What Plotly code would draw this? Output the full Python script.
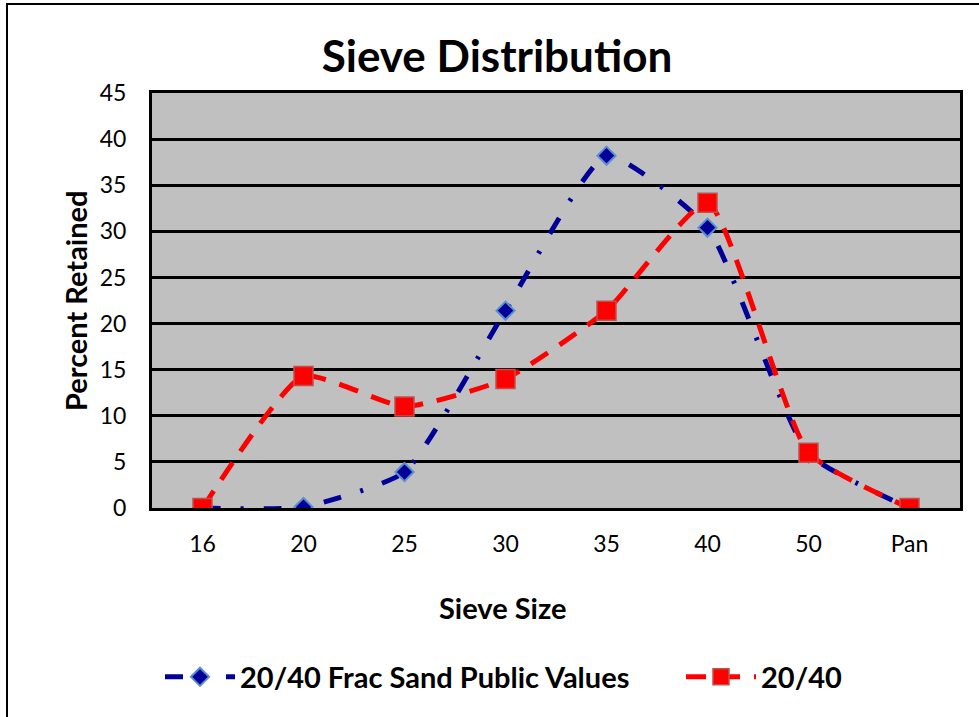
import plotly.graph_objects as go

categories = ["16", "20", "25", "30", "35", "40", "50", "Pan"]
public_values = [0, 0.1, 3.9, 21.4, 38.2, 30.4, 5.9, 0]
sample_values = [0, 14.3, 11.0, 14.0, 21.4, 33.1, 6.0, 0]
y_ticks = [0, 5, 10, 15, 20, 25, 30, 35, 40, 45]

FONT = "Lato"

L, R, T, B = 152, 960, 93, 508
W, H = R - L, B - T
def px(x):
    return (x - L) / W
def py(y):
    return (B - y) / H

fig = go.Figure()
fig.add_trace(go.Scatter(
    x=categories, y=public_values, name="<b>20/40 Frac Sand Public Values</b>",
    mode="lines+markers", legend="legend",
    line=dict(color="#000099", width=5, dash="18px,20px,3px,20px", shape="spline", smoothing=0.5),
    marker=dict(symbol="diamond", size=14, color="#000099", line=dict(color="#5B8FD0", width=2)),
))
fig.add_trace(go.Scatter(
    x=categories, y=sample_values, name="<b>20/40</b>",
    mode="lines+markers", legend="legend2",
    line=dict(color="#FF0000", width=5, dash="20px,14px", shape="spline", smoothing=0.5),
    marker=dict(symbol="square", size=19, color="#FF0000", line=dict(color="#C0504D", width=1.5)),
))

fig.add_shape(type="rect", xref="paper", yref="paper",
              x0=px(7), x1=px(995), y0=py(4), y1=py(730),
              line=dict(color="black", width=2), fillcolor="rgba(0,0,0,0)", layer="below")

fig.add_annotation(text="<b>Sieve Size</b>", xref="paper", yref="paper",
                   x=px(502), y=py(607), xanchor="center", yanchor="middle",
                   showarrow=False, font=dict(size=29, family=FONT, color="black"))
fig.add_annotation(text="<b>Percent Retained</b>", xref="paper", yref="paper",
                   x=px(75), y=py(301), xanchor="center", yanchor="middle", textangle=-90,
                   showarrow=False, font=dict(size=29, family=FONT, color="black"))

legend_common = dict(orientation="h", yanchor="middle", y=py(677), xanchor="left",
                     font=dict(size=29, family=FONT, color="black"), itemwidth=70,
                     bgcolor="rgba(0,0,0,0)")

fig.update_layout(
    width=979, height=717,
    margin=dict(l=L, r=979 - R, t=T, b=717 - B),
    paper_bgcolor="white", plot_bgcolor="#C0C0C0",
    font=dict(family=FONT, color="black"),
    title=dict(text="<b>Sieve Distribution</b>", x=497 / 979, xanchor="center",
               y=1 - 57 / 717, yanchor="middle", font=dict(size=44, family=FONT)),
    showlegend=True,
    legend=dict(x=px(160), **legend_common),
    legend2=dict(x=px(681), **legend_common),
    xaxis=dict(
        type="category", range=[-0.5, 7.5], showgrid=False,
        showline=True, linecolor="black", linewidth=3, mirror=True,
        ticks="", tickfont=dict(size=23, family=FONT), ticklabelstandoff=13,
    ),
    yaxis=dict(
        range=[0, 45], tickvals=y_ticks, showgrid=True, gridcolor="black", gridwidth=3,
        showline=True, linecolor="black", linewidth=3, mirror=True, zeroline=False,
        ticks="", tickfont=dict(size=23, family=FONT), ticklabelstandoff=18,
    ),
)

fig.write_html("out.html", config={"displayModeBar": False},
               post_script="document.body.style.margin='0';document.body.style.padding='0';")
